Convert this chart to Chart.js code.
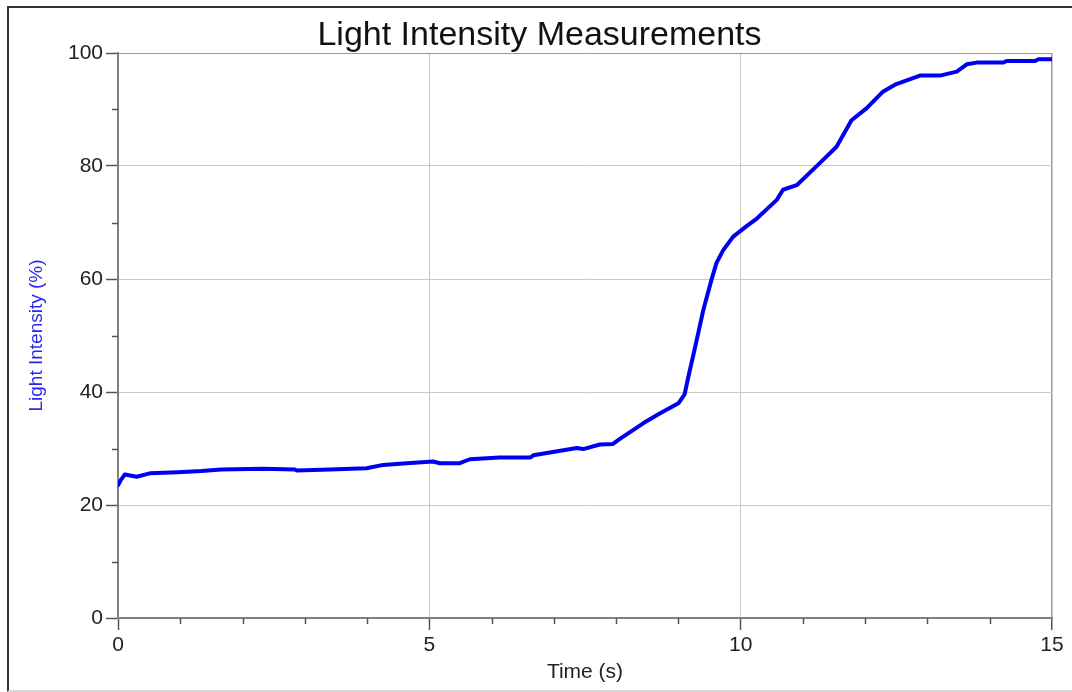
<!DOCTYPE html>
<html>
<head>
<meta charset="utf-8">
<script src="https://cdn.jsdelivr.net/npm/chart.js@4.4.1/dist/chart.umd.min.js"></script>
<style>
  html, body { margin: 0; padding: 0; background: #fff; }
  #frame {
    position: absolute; left: 7px; top: 6px; width: 1080px; height: 682px;
    border-top: 2px solid #333; border-left: 2px solid #333; border-bottom: 2px solid #d8d8d8;
  }
  #wrap { position: absolute; left: 0; top: 0; width: 1072px; height: 692px; }
</style>
</head>
<body>
<div id="frame"></div>
<div id="wrap"><canvas id="lightChart" width="1072" height="692"></canvas></div>
<script>
// Time (s) and light intensity (%)
var times = [0, 0.05, 0.11, 0.3, 0.51, 0.96, 1.34, 1.66, 2.33, 2.84,
    2.87, 3.4, 3.99, 4.26, 4.64, 5.06, 5.17, 5.49, 5.65, 6.13,
    6.62, 6.67, 7.37, 7.47, 7.74, 7.95, 8.06, 8.44, 8.7, 9.0,
    9.1, 9.16, 9.27, 9.4, 9.53, 9.61, 9.72, 9.88, 10.1, 10.26,
    10.58, 10.68, 10.9, 11.27, 11.54, 11.78, 12.02, 12.29, 12.5, 12.88,
    13.2, 13.47, 13.63, 13.79, 14.22, 14.27, 14.73, 14.78, 15];
var intensity = [23.5, 24.5, 25.4, 25.0, 25.6, 25.8, 26.0, 26.3, 26.4, 26.3,
    26.1, 26.3, 26.5, 27.1, 27.4, 27.7, 27.4, 27.4, 28.1, 28.4,
    28.4, 28.8, 30.1, 29.9, 30.7, 30.8, 31.7, 34.5, 36.2, 38.0,
    39.6, 42.7, 48.0, 54.5, 59.8, 62.8, 65.1, 67.5, 69.4, 70.7,
    74.0, 75.8, 76.6, 80.5, 83.4, 88.1, 90.2, 93.2, 94.5, 96.0,
    96.0, 96.7, 98.0, 98.3, 98.3, 98.6, 98.6, 98.9, 98.9];

var xMajor = 5;   // labelled every 5 s, minor tick every 1 s
var yMajor = 20;  // labelled every 20 %, minor tick every 10 %

var points = times.map(function (t, i) { return { x: t, y: intensity[i] }; });

// short minor ticks between the labelled ones
var minorTicks = {
    id: "minorTicks",
    afterDraw: function (chart) {
        var c = chart.ctx, xs = chart.scales.x, ys = chart.scales.y;
        var area = chart.chartArea;
        c.save();
        c.strokeStyle = "#555";
        c.lineWidth = 1.5;
        c.beginPath();
        xs.ticks.forEach(function (tk) {
            if (tk.value % xMajor !== 0) {
                var px = Math.round(xs.getPixelForValue(tk.value)) + 0.5;
                c.moveTo(px, area.bottom);
                c.lineTo(px, area.bottom + 6);
            }
        });
        ys.ticks.forEach(function (tk) {
            if (tk.value % yMajor !== 0) {
                var py = Math.round(ys.getPixelForValue(tk.value)) + 0.5;
                c.moveTo(area.left - 6, py);
                c.lineTo(area.left, py);
            }
        });
        c.stroke();
        c.restore();
    }
};

Chart.defaults.font.family = "'Liberation Sans', Arial, sans-serif";

var ctx = document.getElementById("lightChart").getContext("2d");
var chart = new Chart(ctx, {
    type: "line",
    data: {
        datasets: [
            {
                label: "Light Intensity",
                data: points,
                borderColor: "rgb(0, 0, 240)",
                borderWidth: 4,
                pointRadius: 0,
                tension: 0,
                borderCapStyle: "round",
                borderJoinStyle: "round",
                fill: false
            }
        ]
    },
    options: {
        responsive: false,
        animation: false,
        layout: { padding: { left: 27, right: 20, top: 0, bottom: 0 } },
        plugins: {
            legend: { display: false },
            tooltip: { enabled: false },
            title: {
                display: true,
                text: "Light Intensity Measurements",
                color: "#111",
                font: { size: 34, weight: "normal", lineHeight: 1 },
                padding: { top: 19, bottom: 0 }
            }
        },
        scales: {
            x: {
                type: "linear",
                min: 0,
                max: 15,
                afterFit: function (scale) { scale.height = 74; },
                ticks: {
                    stepSize: 1,
                    autoSkip: false,
                    maxRotation: 0,
                    color: "#222",
                    font: { size: 21 },
                    padding: 3,
                    callback: function (v) { return v % xMajor === 0 ? v : ""; }
                },
                grid: {
                    color: function (c) {
                        if (c.tick.value === 15) return "#999";
                        return c.tick.value % xMajor === 0 ? "#c8c8c8" : "transparent";
                    },
                    lineWidth: function (c) { return c.tick.value === 15 ? 1.5 : 1; },
                    tickColor: function (c) { return c.tick.value % xMajor === 0 ? "#555" : "transparent"; },
                    tickLength: 12,
                    tickWidth: 1.5
                },
                border: { color: "#808080", width: 2 },
                title: {
                    display: true,
                    text: "Time (s)",
                    color: "#222",
                    font: { size: 21 },
                    padding: { top: 0, bottom: 7 }
                }
            },
            y: {
                min: 0,
                max: 100,
                afterFit: function (scale) { scale.width = 91; },
                ticks: {
                    stepSize: 10,
                    color: "#222",
                    font: { size: 21 },
                    padding: 3,
                    callback: function (v) { return v % yMajor === 0 ? v : ""; }
                },
                grid: {
                    color: function (c) {
                        if (c.tick.value === 100) return "#999";
                        return c.tick.value % yMajor === 0 ? "#c8c8c8" : "transparent";
                    },
                    tickColor: function (c) { return c.tick.value % yMajor === 0 ? "#555" : "transparent"; },
                    tickLength: 12,
                    tickWidth: 1.5
                },
                border: { color: "#808080", width: 2 },
                title: {
                    display: true,
                    text: "Light Intensity (%)",
                    color: "rgb(40, 40, 240)",
                    font: { size: 19, lineHeight: 1 },
                    padding: { top: 0, bottom: 0 }
                }
            }
        }
    },
    plugins: [minorTicks]
});
</script>
</body>
</html>
